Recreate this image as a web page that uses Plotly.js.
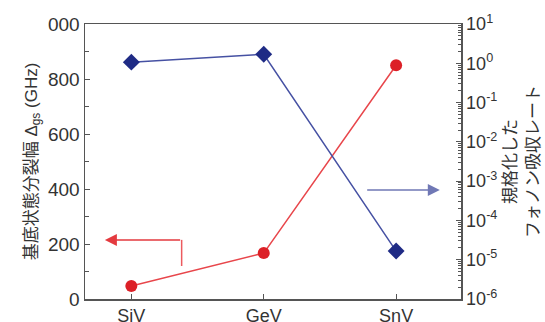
<!DOCTYPE html>
<html>
<head>
<meta charset="utf-8">
<script src="https://cdn.plot.ly/plotly-3.0.1.min.js"></script>
<style>html,body{margin:0;padding:0;background:#fff;}#chart{width:545px;height:322px;}</style>
</head>
<body>
<div id="chart"></div>
<script>
// Data
const categories = ['SiV', 'GeV', 'SnV'];
const splitting = [47, 167, 850];            // ground-state splitting (GHz), left axis
const phononRate = [1.07, 1.7, 1.66e-5];     // normalized phonon absorption rate, right axis (log)
const leftTickVals = [0, 200, 400, 600, 800, 1000];
const leftTickText = ['0', '200', '400', '600', '800', '000'];
const rightTickVals = [1e-6, 1e-5, 1e-4, 1e-3, 1e-2, 1e-1, 1, 10];
const rightTickText = ['10<sup>-6</sup>', '10<sup>-5</sup>', '10<sup>-4</sup>', '10<sup>-3</sup>', '10<sup>-2</sup>', '10<sup>-1</sup>', '10<sup>0</sup>', '10<sup>1</sup>'];
const minorMultipliers = [2, 3, 4, 5, 6, 7, 8, 9];

const xIdx = categories.map((c, i) => i);
const rightMinorVals = [];
rightTickVals.slice(0, -1).forEach(d => minorMultipliers.forEach(m => rightMinorVals.push(d * m)));

const FONT = '"Liberation Sans", Arial, "Noto Sans CJK JP", sans-serif';
const AX = '#555555';
const TXT = '#333333';

const traces = [
  {
    x: xIdx, y: splitting, type: 'scatter', mode: 'lines+markers',
    line: {color: '#e8464b', width: 1.5},
    marker: {color: '#dc2027', size: 12, symbol: 'circle'},
    yaxis: 'y', cliponaxis: false, showlegend: false
  },
  {
    x: xIdx, y: phononRate, type: 'scatter', mode: 'lines+markers',
    line: {color: '#4651a3', width: 1.5},
    marker: {color: '#1f2b85', size: 13, symbol: 'diamond'},
    yaxis: 'y2', cliponaxis: false, showlegend: false
  }
];

const layout = {
  width: 545, height: 322,
  margin: {l: 85, r: 84, t: 24, b: 23, pad: 0},
  paper_bgcolor: '#fff', plot_bgcolor: '#fff',
  font: {family: FONT, size: 17, color: TXT},
  xaxis: {
    range: [-0.35, 2.49], tickvals: xIdx, ticktext: categories,
    ticks: 'inside', ticklen: 5, tickcolor: AX, tickwidth: 1,
    showline: true, linecolor: AX, linewidth: 1.5, mirror: true,
    showgrid: false, zeroline: false,
    tickfont: {size: 18, color: TXT}
  },
  yaxis: {
    range: [0, 1000], tickvals: leftTickVals, ticktext: leftTickText,
    ticks: 'inside', ticklen: 5, tickcolor: AX, tickwidth: 1,
    minor: {ticks: 'inside', ticklen: 4, dtick: 100, tickcolor: AX, showgrid: false},
    showline: true, linecolor: AX, linewidth: 1.5,
    showgrid: false, zeroline: false,
    tickfont: {size: 19, color: TXT},
    title: {text: '基底状態分裂幅 Δ<sub>gs</sub> (GHz)', font: {size: 17, color: TXT}, standoff: 6}
  },
  yaxis2: {
    type: 'log', range: [-6, 1], overlaying: 'y', side: 'right',
    tickvals: rightTickVals, ticktext: rightTickText,
    ticks: 'inside', ticklen: 5, tickcolor: AX, tickwidth: 1,
    minor: {ticks: 'inside', ticklen: 3, tickvals: rightMinorVals, tickcolor: AX, showgrid: false},
    showline: true, linecolor: AX, linewidth: 1.5,
    showgrid: false, zeroline: false,
    tickfont: {size: 18, color: TXT},
    title: {text: '規格化した<br>フォノン吸収レート', font: {size: 17, color: TXT}, standoff: 8}
  },
  shapes: [
    {type: 'line', xref: 'x', yref: 'y', x0: 0.38, x1: 0.38, y0: 120, y1: 215,
     line: {color: '#ec5a5e', width: 1.5}}
  ],
  annotations: [
    {xref: 'x', yref: 'y', axref: 'x', ayref: 'y', x: -0.2, y: 215, ax: 0.38, ay: 215,
     text: '', showarrow: true, arrowhead: 2, arrowsize: 1.6, arrowwidth: 1.5, arrowcolor: '#e43a3f'},
    {xref: 'x', yref: 'y', axref: 'x', ayref: 'y', x: 2.33, y: 396, ax: 1.77, ay: 396,
     text: '', showarrow: true, arrowhead: 2, arrowsize: 1.6, arrowwidth: 1.5, arrowcolor: '#7078b5'}
  ]
};

Plotly.newPlot('chart', traces, layout, {displayModeBar: false, staticPlot: true});
</script>
</body>
</html>
